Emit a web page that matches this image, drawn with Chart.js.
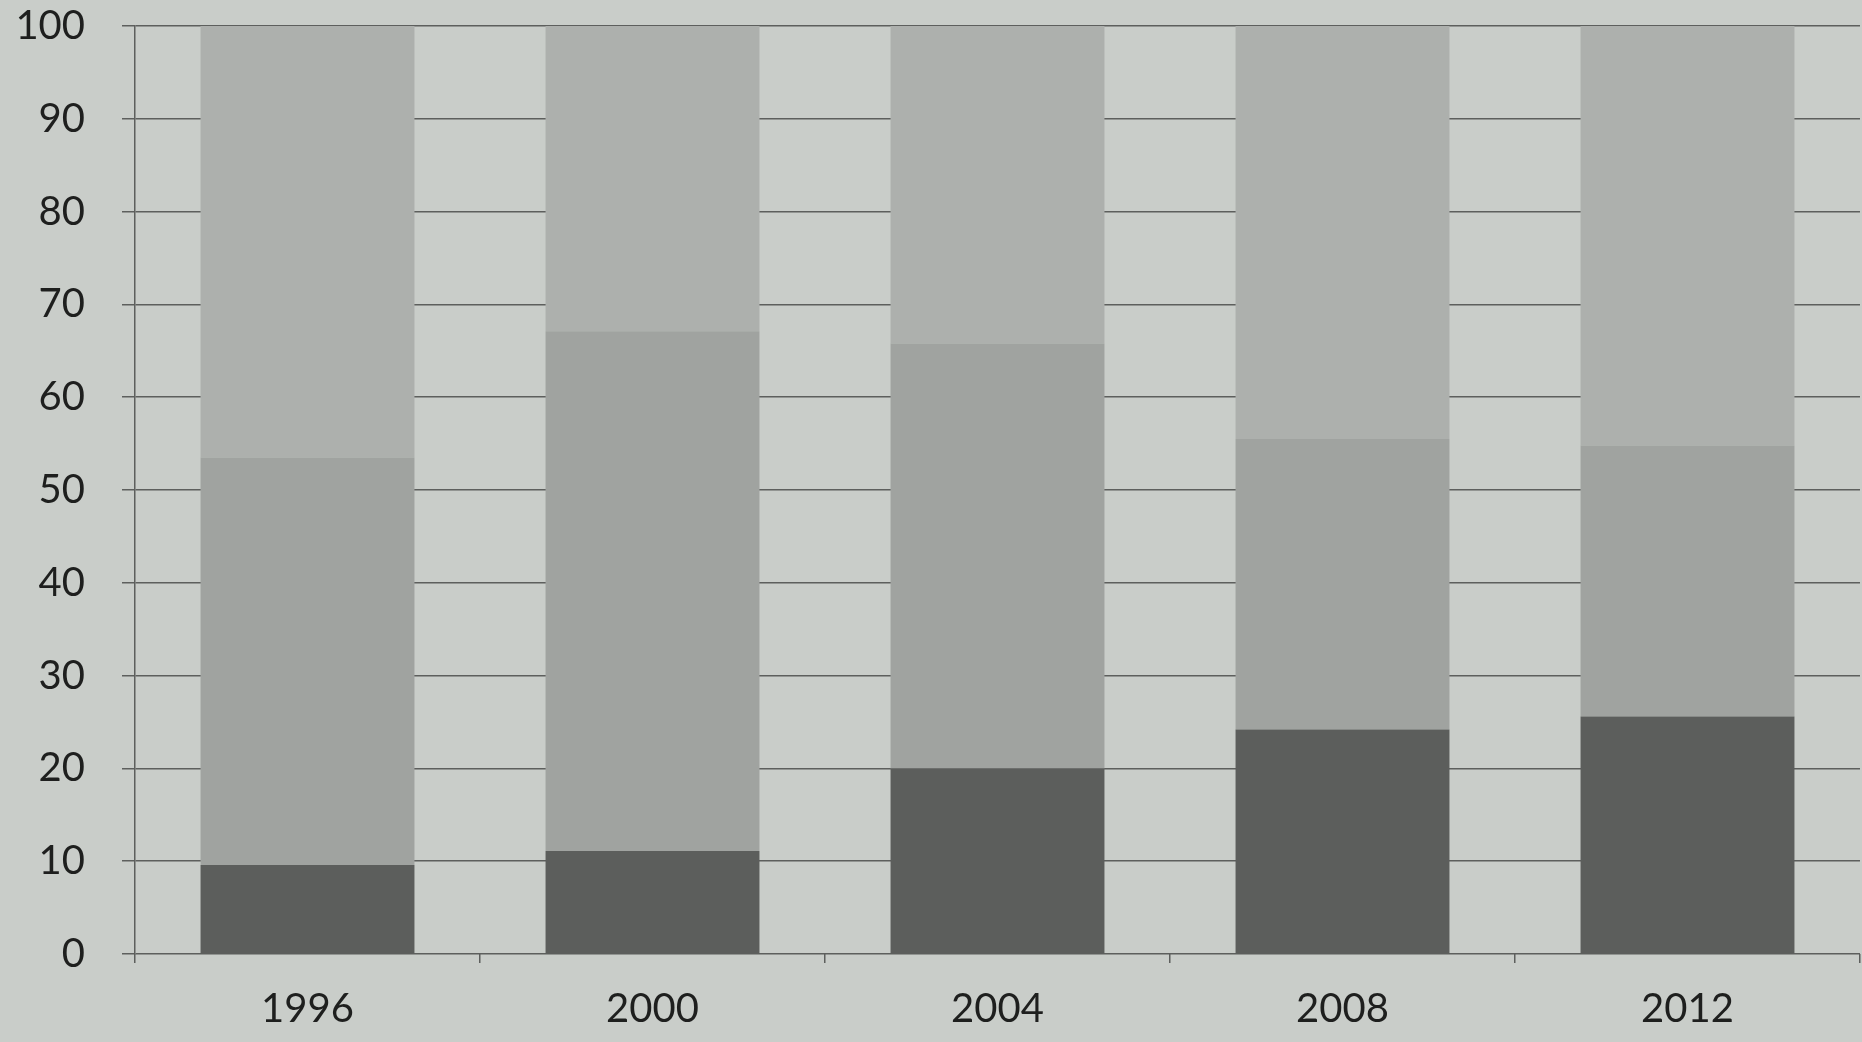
<!DOCTYPE html>
<html>
<head>
<meta charset="utf-8">
<script src="https://cdn.jsdelivr.net/npm/chart.js@4.4.1/dist/chart.umd.min.js"></script>
<style>
    html, body { margin: 0; padding: 0; background: #c9cdc9; }
    #wrap { width: 1862px; height: 1042px; }
</style>
</head>
<body>
<div id="wrap"><canvas id="share-chart" width="1862" height="1042"></canvas></div>
<script>
// Data (percent, stacked to 100)
const years = ["1996", "2000", "2004", "2008", "2012"];
const bottomShare = [9.6, 11.1, 20.0, 24.2, 25.6];
const middleShare = [43.9, 56.0, 45.8, 31.3, 29.2];
const topShare = [46.5, 32.9, 34.2, 44.5, 45.2];
const yTicks = [0, 10, 20, 30, 40, 50, 60, 70, 80, 90, 100];

const gridColor = "#5d5f5d";
const labelFont = { family: "Lato, 'Open Sans', sans-serif", size: 40 };

const ctx = document.getElementById("share-chart").getContext("2d");

const shareChart = new Chart(ctx, {
    type: "bar",
    data: {
        labels: years,
        datasets: [
            { label: "bottom", data: bottomShare, backgroundColor: "#5c5e5c" },
            { label: "middle", data: middleShare, backgroundColor: "#a0a3a0" },
            { label: "top", data: topShare, backgroundColor: "#adb0ad" }
        ]
    },
    options: {
        responsive: false,
        animation: false,
        barPercentage: 0.62,
        categoryPercentage: 1,
        layout: { padding: { top: 26, right: 2, bottom: 0, left: 0 } },
        scales: {
            x: {
                stacked: true,
                afterFit: scale => { scale.height = 88; },
                grid: {
                    drawOnChartArea: false,
                    drawTicks: true,
                    tickLength: 9,
                    color: gridColor,
                    lineWidth: 1.5
                },
                border: { display: false },
                ticks: { color: "#1e1f1e", font: labelFont, padding: 22 }
            },
            y: {
                stacked: true,
                min: 0,
                max: 100,
                afterBuildTicks: scale => {
                    scale.ticks = yTicks.map(v => ({ value: v }));
                },
                // fixed axis width, and no extra room for the top label
                afterFit: scale => {
                    scale.width = 135;
                    scale.paddingTop = 0;
                    scale.paddingBottom = 0;
                },
                grid: {
                    color: gridColor,
                    lineWidth: 1.5,
                    tickLength: 13
                },
                border: { display: true, color: gridColor, width: 1.5 },
                ticks: {
                    color: "#1e1f1e",
                    font: { ...labelFont, lineHeight: 1 },
                    padding: 37
                }
            }
        },
        plugins: {
            legend: { display: false },
            tooltip: { enabled: false }
        }
    }
});
</script>
</body>
</html>
